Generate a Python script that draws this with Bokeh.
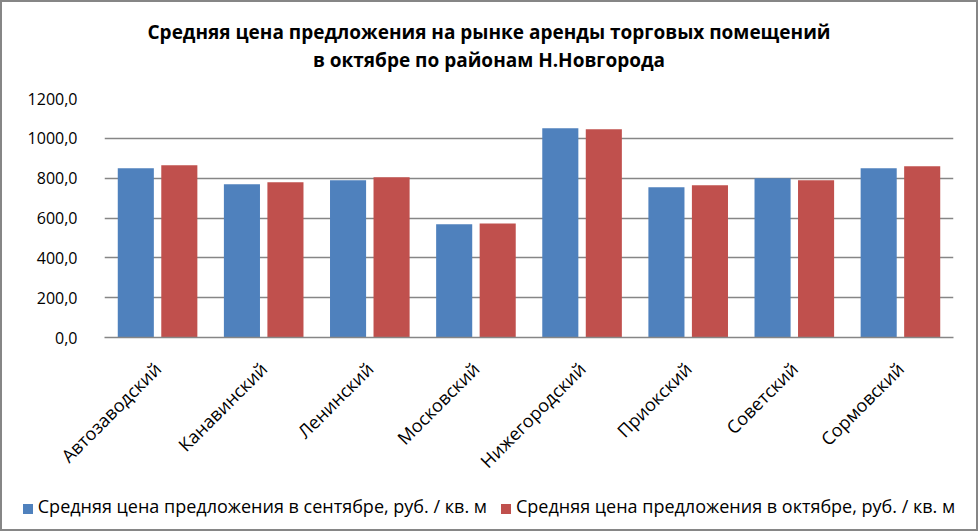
import math
from bokeh.plotting import figure
from bokeh.layouts import column
from bokeh.models import (ColumnDataSource, FactorRange, Div,
                          CustomJSTickFormatter, FixedTicker)
from bokeh.transform import dodge
from bokeh.embed import file_html
from bokeh.resources import INLINE

districts = ["Автозаводский", "Канавинский", "Ленинский", "Московский",
             "Нижегородский", "Приокский", "Советский", "Сормовский"]
september = [850, 770, 790, 568, 1051, 755, 800, 850]
october = [865, 780, 805, 573, 1046, 765, 790, 860]
y_ticks = [0, 200, 400, 600, 800, 1000, 1200]

title_line1 = "Средняя цена предложения на рынке аренды торговых помещений"
title_line2 = "в октябре по районам Н.Новгорода"
label_sep = "Средняя цена предложения в сентябре, руб. / кв. м"
label_oct = "Средняя цена предложения в октябре, руб. / кв. м"

FONT = "Open Sans"
BLUE = "#4F81BD"
RED = "#C0504D"
GRID = "#868686"
W = 974

# ---- title ----
title = Div(
    text=(f'<div style="font-family:\'{FONT}\';font-weight:bold;font-size:19px;'
          f'color:black;text-align:center;line-height:28px;padding-top:16px;'
          f'width:{W}px;white-space:nowrap;">{title_line1}<br>{title_line2}</div>'),
    width=W, height=86, margin=0)

# ---- main chart ----
src = ColumnDataSource(dict(d=districts, sep=september, oct=october))

p = figure(x_range=FactorRange(*districts), y_range=(0, 1200),
           width=W, height=401, output_backend="svg", toolbar_location=None,
           min_border_left=102, min_border_right=23, min_border_top=10,
           min_border_bottom=152, margin=0)

r1 = p.vbar(x=dodge("d", -0.205, range=p.x_range), top="sep", width=0.34,
            source=src, color=BLUE, line_color=None)
r2 = p.vbar(x=dodge("d", 0.205, range=p.x_range), top="oct", width=0.34,
            source=src, color=RED, line_color=None)

p.yaxis.ticker = FixedTicker(ticks=y_ticks)
p.yaxis.formatter = CustomJSTickFormatter(code="return tick.toFixed(1).replace('.', ',');")
p.yaxis.axis_line_color = None
p.yaxis.major_tick_line_color = None
p.yaxis.minor_tick_line_color = None
p.yaxis.major_label_text_font = FONT
p.yaxis.major_label_text_font_size = "16px"
p.yaxis.major_label_text_color = "black"
p.yaxis.major_label_standoff = 21

p.xaxis.axis_line_color = GRID
p.xaxis.axis_line_width = 1.5
p.xaxis.major_tick_line_color = None
p.xaxis.minor_tick_line_color = None
p.xaxis.major_label_orientation = math.pi / 4
p.xaxis.major_label_text_font = FONT
p.xaxis.major_label_text_font_size = "18px"
p.xaxis.major_label_text_color = "black"
p.xaxis.major_label_standoff = 22

p.xgrid.grid_line_color = None
p.ygrid.grid_line_color = GRID
p.ygrid.grid_line_width = 1.5
p.outline_line_color = None
p.x_range.range_padding = 0
p.x_range.group_padding = 0

# ---- legend strip ----
def legend_item(color, label, gap):
    return (f'<span style="margin-left:{gap}px;white-space:nowrap;">'
            f'<span style="display:inline-block;width:10px;height:10px;'
            f'background:{color};margin-right:5px;vertical-align:-1px;"></span>'
            f'{label}</span>')

legend_html = (f'<div style="font-family:\'{FONT}\';font-size:18px;color:black;'
               f'text-align:center;line-height:22px;padding-top:6px;'
               f'white-space:nowrap;width:{W}px;">'
               + legend_item(BLUE, label_sep, 0)
               + legend_item(RED, label_oct, 14)
               + '</div>')
legend = Div(text=legend_html, width=W, height=40, margin=0)

layout = column(title, p, legend, spacing=0,
                styles={"border": "2px solid #868686", "background": "white"})

open("out.html", "w").write(file_html(layout, INLINE))
